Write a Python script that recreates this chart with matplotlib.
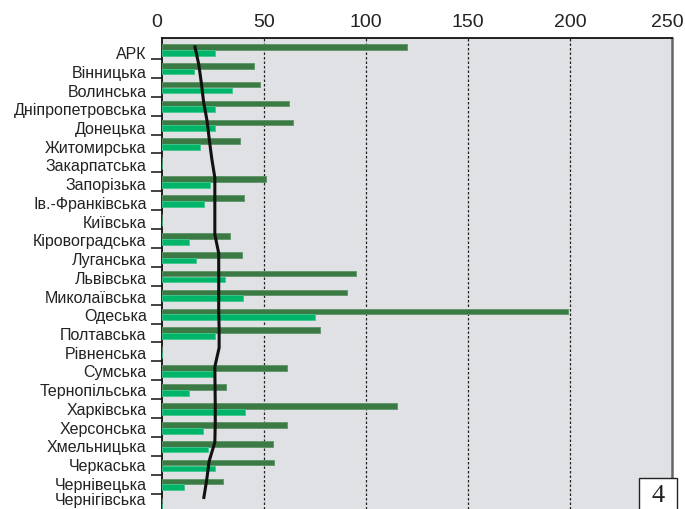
import numpy as np
import matplotlib
matplotlib.use("Agg")
import matplotlib.pyplot as plt
from matplotlib.ticker import FixedLocator
from matplotlib.patches import Rectangle
import matplotlib.transforms as mtransforms

plt.rcParams["font.family"] = ["Liberation Sans", "DejaVu Sans"]

# ── Data ──────────────────────────────────────────────────────────────────────
regions = [
    "АРК", "Вінницька", "Волинська", "Дніпропетровська", "Донецька",
    "Житомирська", "Закарпатська", "Запорізька", "Ів.-Франківська", "Київська",
    "Кіровоградська", "Луганська", "Львівська", "Миколаївська", "Одеська",
    "Полтавська", "Рівненська", "Сумська", "Тернопільська", "Харківська",
    "Херсонська", "Хмельницька", "Черкаська", "Чернівецька", "Чернігівська",
]
# dark green series (0 = no bar)
dark_vals = [120, 45, 48, 62.5, 64, 38, 0, 51, 40, 0,
             33.5, 39, 95, 90.5, 199, 77.5, 0, 61.5, 31.5, 115,
             61.5, 54.5, 55, 30, 0]
# bright green series
light_vals = [26, 15.5, 34.5, 26, 26, 18.5, 0, 23.5, 20.5, 0,
              13, 16.5, 31, 39.5, 75, 26, 0, 25.5, 13, 40.5,
              20, 22.5, 26, 11, 0]
# black curve, one value per region
curve_vals = [16.0, 18.0, 19.3, 20.4, 22.1, 23.2, 24.4, 25.9, 25.9, 25.9,
              25.9, 27.8, 27.8, 27.8, 27.8, 28.0, 28.0, 25.9, 26.0, 26.1,
              26.1, 25.9, 23.1, 21.9, 20.4]
x_ticks = [0, 50, 100, 150, 200, 250]

DARK = "#3b7a45"
LIGHT = "#00b46a"
BG = "#e0e1e5"

y = np.arange(len(regions))

fig = plt.figure(figsize=(6.85, 5.10), dpi=100)
ax = fig.add_axes([0.2365, 0.0, 0.7445, 0.9235])
ax.set_facecolor(BG)

ax.barh(y - 0.145, dark_vals, height=0.30, color=DARK, edgecolor="#5e9466",
        linewidth=0.6, zorder=3)
ax.barh(y + 0.165, light_vals, height=0.31, color=LIGHT, edgecolor="#40c88e",
        linewidth=0.6, zorder=3)
ax.plot(curve_vals, y - 0.22, color="#111111", linewidth=2.2, zorder=5,
        solid_capstyle="butt")

# grid
for xv in x_ticks[1:-1]:
    ax.axvline(xv, color="#222222", linewidth=0.9, linestyle=(0, (2, 1.6)), zorder=2)

ax.set_xlim(0, 250)
ax.set_ylim(24.31, -0.61)

# x axis on top
ax.xaxis.tick_top()
ax.set_xticks(x_ticks)
ax.tick_params(axis="x", length=0, pad=6, labelsize=14, labelcolor="#222222")
xl = ax.get_xticklabels()
for lbl in (xl[0], xl[-1]):
    lbl.set_transform(lbl.get_transform() +
                      mtransforms.ScaledTranslation(-5 / 100, 0, fig.dpi_scale_trans))

# y labels at row centres, tick marks between rows
ax.set_yticks(y)
ax.set_yticklabels(regions)
ax.yaxis.set_minor_locator(FixedLocator(y[:-1] + 0.5))
ax.tick_params(axis="y", which="major", length=0, pad=11, labelsize=11.5,
               labelcolor="#222222")
ax.tick_params(axis="y", which="minor", length=8, width=1.1, color="#111111")
ylabels = ax.get_yticklabels()
for i, lbl in enumerate(ylabels):
    dy = -(2.5 - 0.17 * i) / 100
    if i == len(ylabels) - 1:
        dy += 3.5 / 100
    lbl.set_transform(lbl.get_transform() +
                      mtransforms.ScaledTranslation(0, dy, fig.dpi_scale_trans))

for sp in ["top", "left"]:
    ax.spines[sp].set_color("#111111")
    ax.spines[sp].set_linewidth(1.3)
ax.spines["bottom"].set_visible(False)
ax.spines["right"].set_color("#666666")
ax.spines["right"].set_linewidth(1.8)

# page number box
W, H = 685, 510
fig.patches.append(Rectangle((639 / W, -4 / H), 38 / W, 35 / H, transform=fig.transFigure,
                             facecolor="white", edgecolor="#222222", linewidth=1.0,
                             zorder=10))
fig.text(658 / W, 1 - 496 / H, "4", ha="center", va="center", fontsize=19,
         family=["Liberation Serif", "DejaVu Serif"], color="#222222", zorder=11)

fig.savefig("out.png", dpi=100)
